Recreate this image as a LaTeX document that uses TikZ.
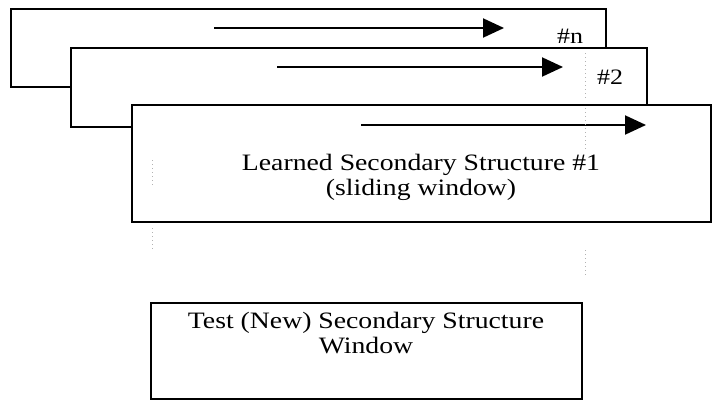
\documentclass[tikz,border=0pt]{standalone}
\usepackage{fontspec}
\setmainfont{Liberation Serif}[FakeStretch=1.18]
\usetikzlibrary{arrows.meta}
\begin{document}
\begin{tikzpicture}[x=1pt,y=-1pt,
  framebox/.style={draw=black,fill=white,line width=1.9pt,anchor=north west,inner sep=0pt,outer sep=0pt},
  flowarrow/.style={line width=2pt,-{Triangle[length=21pt,width=19pt]}},
  guide/.style={draw=black!30,line width=0.8pt,dash pattern=on 1pt off 3pt},
  caption/.style={font=\fontsize{23.5}{25}\selectfont,align=center,anchor=base,inner sep=0pt},
  tag/.style={font=\fontsize{22}{23}\selectfont,anchor=base,inner sep=0pt}]
\useasboundingbox (0,0) rectangle (714,402);

% stacked structure windows, back to front
\node[framebox,minimum width=595,minimum height=78] (bn) at (11,9) {};
\coordinate (an0) at (214,28);
\coordinate (an1) at (504,28);
\draw[flowarrow] (an0) -- (an1);
\node[tag] (tn) at (570,43) {\#n};

\node[framebox,minimum width=576,minimum height=79] (b2) at (71,48) {};
\coordinate (a20) at (277,67);
\coordinate (a21) at (563,67);
\draw[flowarrow] (a20) -- (a21);
\node[tag] (t2) at (610,84) {\#2};

\node[framebox,minimum width=579,minimum height=117] (b1) at (132,105) {};
\coordinate (a10) at (361,125);
\coordinate (a11) at (646,125);
\draw[flowarrow] (a10) -- (a11);
% anchor=base sits on the last line of a two-line caption
\node[caption] (t1) at (421,195) {Learned Secondary Structure \#1\\(sliding window)};

% faint alignment guides
\coordinate (g1a) at (585,53);  \coordinate (g1b) at (585,100);
\coordinate (g2a) at (585,108); \coordinate (g2b) at (585,150);
\coordinate (g3a) at (585,250); \coordinate (g3b) at (585,275);
\coordinate (g4a) at (152,160); \coordinate (g4b) at (152,185);
\coordinate (g5a) at (152,228); \coordinate (g5b) at (152,252);
\draw[guide] (g1a) -- (g1b);
\draw[guide] (g2a) -- (g2b);
\draw[guide] (g3a) -- (g3b);
\draw[guide] (g4a) -- (g4b);
\draw[guide] (g5a) -- (g5b);

% test window
\node[framebox,minimum width=431,minimum height=96] (bt) at (151,303) {};
\node[caption] (tt) at (366,353) {Test (New) Secondary Structure\\Window};
\end{tikzpicture}
\end{document}
